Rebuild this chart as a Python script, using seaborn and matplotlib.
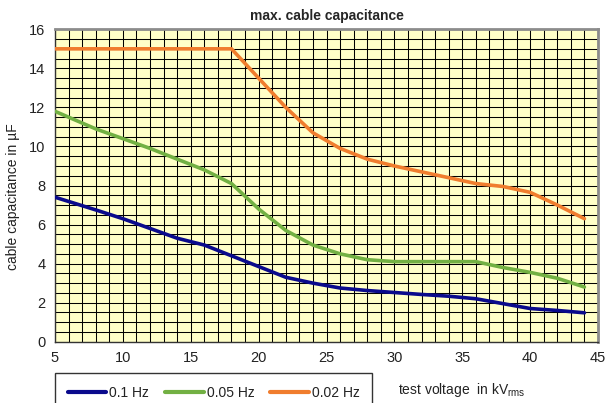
import matplotlib
matplotlib.use("Agg")
import matplotlib.pyplot as plt
import matplotlib.ticker as mticker
import seaborn as sns
import pandas as pd

# ---- data ----
x_01 = [5, 8, 10, 12, 14, 16, 18, 20, 22, 24, 26, 28, 30, 32, 34, 36, 38, 40, 42, 44]
y_01 = [7.4, 6.75, 6.3, 5.8, 5.3, 4.95, 4.4, 3.85, 3.3, 3.0, 2.75, 2.62, 2.52, 2.42, 2.33, 2.2, 1.95, 1.7, 1.6, 1.48]

x_005 = [5, 8, 10, 12, 14, 16, 18, 20, 22, 24, 26, 28, 30, 32, 34, 36, 38, 40, 42, 44]
y_005 = [11.8, 10.9, 10.4, 9.9, 9.35, 8.8, 8.1, 6.8, 5.7, 4.95, 4.5, 4.2, 4.1, 4.1, 4.1, 4.1, 3.8, 3.55, 3.25, 2.8]

x_002 = [5, 18, 20, 22, 24, 26, 28, 30, 32, 34, 36, 38, 40, 42, 44]
y_002 = [15, 15, 13.5, 12, 10.7, 9.9, 9.35, 9.0, 8.7, 8.4, 8.1, 7.95, 7.65, 7.0, 6.3]

series_names = ["0.1 Hz", "0.05 Hz", "0.02 Hz"]
colors = ["#0A0A8C", "#72B043", "#F07D2E"]

title = "max. cable capacitance"
ylabel = "cable capacitance in µF"
xlabel = r"test voltage  in kV$_\mathregular{rms}$"

frames = []
for name, xs, ys in zip(series_names, [x_01, x_005, x_002], [y_01, y_005, y_002]):
    frames.append(pd.DataFrame({"kV": xs, "C": ys, "f": name}))
df = pd.concat(frames, ignore_index=True)

sns.set_style("white")
plt.rcParams["font.family"] = ["Liberation Sans", "DejaVu Sans"]

fig = plt.figure(figsize=(6.07, 4.03), dpi=100)
ax = fig.add_axes([55 / 607, 1 - 341.7 / 403, 543 / 607, (341.7 - 29.3) / 403])
ax.set_facecolor("#FFFFC8")

sns.lineplot(data=df, x="kV", y="C", hue="f", hue_order=series_names,
             palette=dict(zip(series_names, colors)), linewidth=2.6,
             ax=ax, legend=True, sort=False, estimator=None)

ax.set_xlim(5, 45)
ax.set_ylim(0, 16)
ax.xaxis.set_major_locator(mticker.MultipleLocator(5))
ax.xaxis.set_minor_locator(mticker.MultipleLocator(1))
ax.yaxis.set_major_locator(mticker.MultipleLocator(2))
ax.yaxis.set_minor_locator(mticker.MultipleLocator(0.5))
ax.grid(True, which="both", color="black", linewidth=0.75)
ax.set_axisbelow(True)
for ln in ax.get_lines():
    ln.set_zorder(3)

ax.tick_params(axis="both", which="major", direction="out", length=4, width=1,
               color="#333333", labelsize=10.5, labelcolor="#222222", pad=3)
ax.tick_params(axis="both", which="minor", length=0)
for s in ["left", "bottom"]:
    ax.spines[s].set_color("#333333")
    ax.spines[s].set_linewidth(1)
for s in ["top", "right"]:
    ax.spines[s].set_color("#8C8C8C")
    ax.spines[s].set_linewidth(2)

ax.set_xlabel("")
ax.set_ylabel("")
ax.set_title(title, fontsize=10, fontweight="bold", pad=7)
fig.text(13 / 607, 1 - 197 / 403, ylabel, rotation=90, ha="center", va="center",
         fontsize=10, color="#222222")
fig.text(398 / 607, 1 - 390 / 403, xlabel, ha="left", va="center",
         fontsize=10, color="#222222")

handles, labels = ax.get_legend_handles_labels()
ax.get_legend().remove()
leg = fig.legend(handles, labels, loc="upper left",
                 bbox_to_anchor=(55 / 607, 1 - 373.3 / 403), ncol=3,
                 frameon=True, fancybox=False, fontsize=10,
                 handlelength=2.8, handletextpad=0.2, columnspacing=1.15,
                 borderpad=0.9, borderaxespad=0)
leg.get_frame().set_edgecolor("black")
leg.get_frame().set_linewidth(1)
for t in leg.get_texts():
    t.set_color("#222222")
for h in leg.legend_handles:
    h.set_linewidth(3)

fig.savefig("out.png", dpi=100)
